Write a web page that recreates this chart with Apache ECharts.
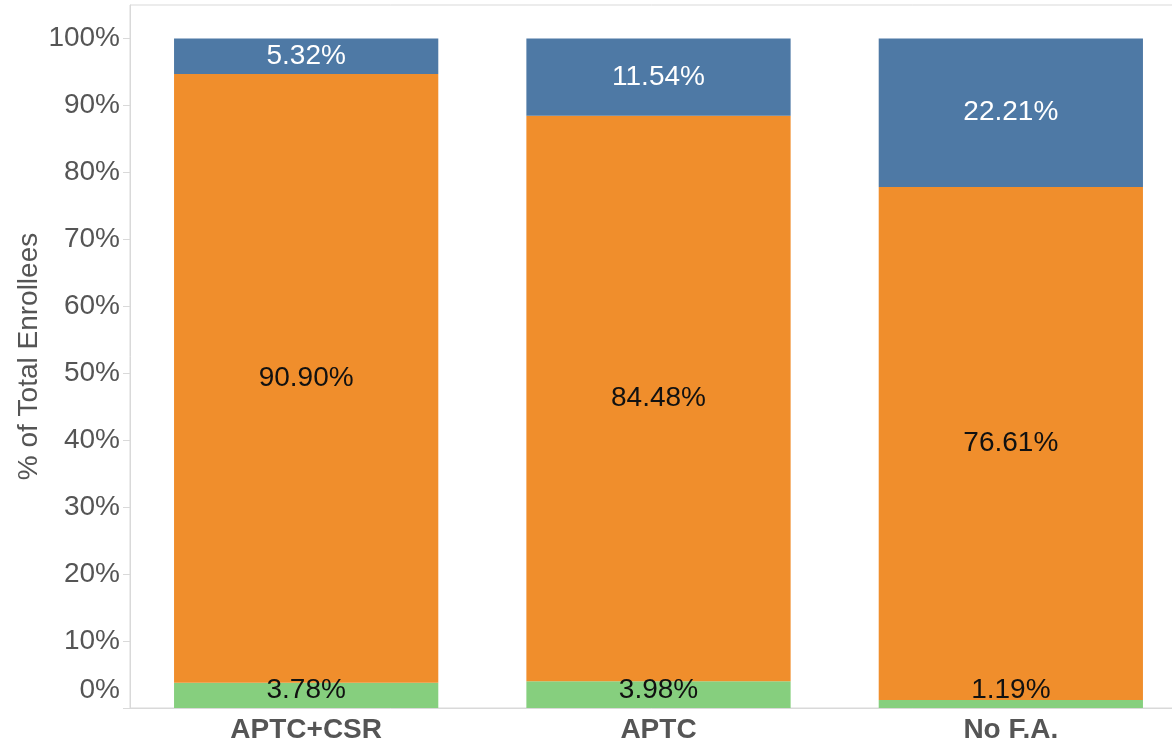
<!DOCTYPE html>
<html>
<head>
<meta charset="utf-8">
<script src="https://cdn.jsdelivr.net/npm/echarts@6/dist/echarts.min.js"></script>
<style>
	html, body { margin: 0; padding: 0; background: #fff; }
	#main { width: 1172px; height: 743px; }
</style>
</head>
<body>
<div id="main"></div>
<script>
// categories and stacked shares (bottom to top)
let categories = ['APTC+CSR', 'APTC', 'No F.A.']
let greenShare = [3.78, 3.98, 1.19]
let orangeShare = [90.90, 84.48, 76.61]
let blueShare = [5.32, 11.54, 22.21]
let yTicks = [0, 10, 20, 30, 40, 50, 60, 70, 80, 90, 100]

let font = "'Liberation Sans', Arial, sans-serif"
let lineGray = '#d9d9d9'

function pct(p) {
	return p.value.toFixed(2) + '%'
}

var chart = echarts.init(document.getElementById('main'));
chart.setOption({
	animation: false,
	textStyle: { fontFamily: font },
	grid: {
		left: 130,
		width: 1057,
		top: 5,
		bottom: 35,
		outerBoundsMode: 'none',
		containLabel: false,
		show: true,
		borderColor: lineGray,
		borderWidth: 1
	},
	xAxis: {
		type: 'category',
		data: categories,
		axisLine: { lineStyle: { color: lineGray } },
		axisTick: { length: 5, lineStyle: { color: lineGray } },
		axisLabel: {
			margin: 8,
			color: '#555',
			fontSize: 28,
			fontWeight: 'bold',
			fontFamily: font
		}
	},
	yAxis: {
		type: 'value',
		min: 0,
		max: 105,
		interval: 10,
		name: '% of Total Enrollees',
		nameLocation: 'middle',
		nameGap: 87,
		nameMoveOverlap: false,
		nameTextStyle: { color: '#555', fontSize: 28, fontFamily: font },
		axisLine: { show: true, lineStyle: { color: lineGray } },
		axisTick: { show: true, length: 7, customValues: yTicks, lineStyle: { color: lineGray } },
		splitLine: { show: false },
		axisLabel: {
			customValues: yTicks,
			margin: 10,
			color: '#555',
			fontSize: 28,
			fontFamily: font,
			formatter: function(v) {
				if(v == 0) return '{z|0%}'
				return v + '%'
			},
			rich: {
				z: { padding: [0, 0, 36, 0], color: '#555', fontSize: 28, fontFamily: font }
			}
		}
	},
	series: [{
			name: 'green',
			type: 'bar',
			stack: 'total',
			barWidth: '75%',
			itemStyle: { color: '#86cf7e' },
			label: {
				show: true,
				position: 'insideBottom',
				distance: 4,
				color: '#111',
				fontSize: 28,
				fontFamily: font,
				formatter: pct
			},
			data: greenShare
		},
		{
			name: 'orange',
			type: 'bar',
			stack: 'total',
			itemStyle: { color: '#f08e2c' },
			label: {
				show: true,
				position: 'inside',
				color: '#111',
				fontSize: 28,
				fontFamily: font,
				formatter: pct
			},
			data: orangeShare
		},
		{
			name: 'blue',
			type: 'bar',
			stack: 'total',
			itemStyle: { color: '#4e79a5' },
			label: {
				show: true,
				position: 'inside',
				color: '#fff',
				fontSize: 28,
				fontFamily: font,
				formatter: pct
			},
			data: blueShare
		}
	]
})
</script>
</body>
</html>
